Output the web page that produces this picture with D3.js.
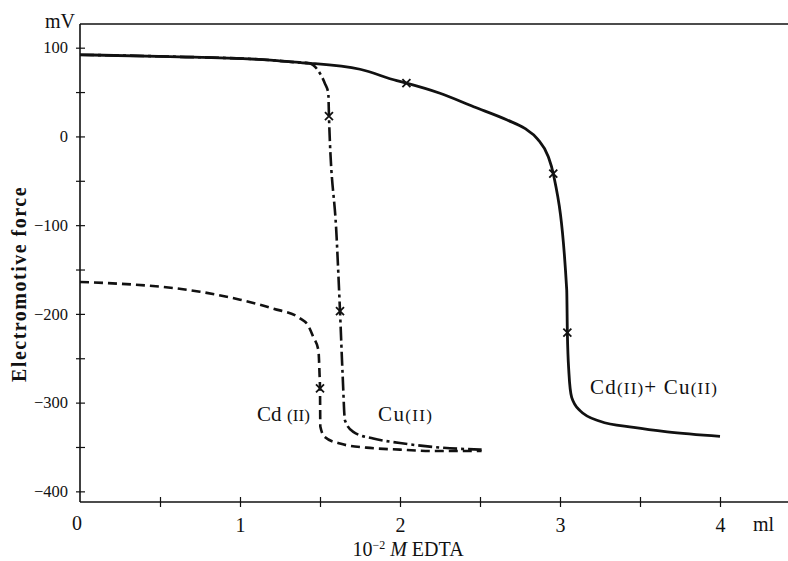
<!DOCTYPE html>
<html>
<head>
<meta charset="utf-8">
<script src="https://cdn.jsdelivr.net/npm/d3@7"></script>
<style>
  html, body { margin: 0; padding: 0; background: #fff; }
  svg { display: block; font-family: "Liberation Serif", "DejaVu Serif", serif; }
</style>
</head>
<body>
<svg id="chart" width="788" height="561"></svg>
<script>
// ---- data (ml of 10^-2 M EDTA, mV) ----
const cdcuX = [0, 0.56, 1.19, 1.39, 1.44, 1.75, 1.98, 2.04, 2.25, 2.46, 2.67, 2.78, 2.86, 2.927, 2.958, 3.042, 3.046, 3.056, 3.073, 3.125, 3.25, 3.46, 3.67, 4.0];
const cdcuY = [92, 90, 86, 83, 82.4, 75.7, 62.8, 60, 48.6, 33.5, 18.5, 9, -3, -23, -42, -173, -221, -267, -294, -309, -321, -328, -333, -338];
const cuX = [0, 0.56, 1.19, 1.39, 1.43, 1.5, 1.53, 1.552, 1.556, 1.604, 1.625, 1.642, 1.656, 1.708, 1.833, 2.0, 2.208, 2.51];
const cuY = [92, 90, 86, 83, 82.5, 71, 60, 48.6, 23, -114, -197, -271, -320, -333, -340.5, -345.5, -350, -353];
const cdX = [0, 0.75, 1.0, 1.208, 1.375, 1.427, 1.458, 1.49, 1.497, 1.5, 1.502, 1.53, 1.625, 1.79, 2.0, 2.21, 2.51];
const cdY = [-164, -175, -184, -194, -205, -213.5, -226, -241, -267, -284, -327, -338.7, -346.2, -350.7, -353, -354.5, -354.5];
const cdcuMarkX = [2.04, 2.958, 3.046];
const cdcuMarkY = [60, -42, -221];
const cuMarkX = [1.556, 1.625];
const cuMarkY = [23, -197];
const cdMarkX = [1.5];
const cdMarkY = [-284];
const xTickValues = [0.5, 1, 1.5, 2, 2.5, 3, 3.5, 4];
const xTickLabels = ["", "1", "", "2", "", "3", "", "4"];
const yTickValues = [100, 50, 0, -50, -100, -150, -200, -250, -300, -350, -400];
const yTickLabels = ["100", "", "0", "", "\u2212100", "", "\u2212200", "", "\u2212300", "", "\u2212400"];

const svg = d3.select("#chart");
const ink = "#111";

const x = d3.scaleLinear().domain([0, 4.425]).range([80, 788]);
const y = d3.scaleLinear().domain([-412, 126.7]).range([502, 24]);

// frame: top line
svg.append("line").attr("x1", x(0)).attr("x2", 788).attr("y1", y(126.7)).attr("y2", y(126.7))
  .attr("stroke", ink).attr("stroke-width", 1.4);

// x axis
const xAxis = d3.axisBottom(x).tickValues(xTickValues)
  .tickFormat((d, i) => xTickLabels[i]).tickSize(5).tickPadding(11);
const gx = svg.append("g").attr("transform", `translate(0,${y(-412)})`).call(xAxis);
gx.select(".domain").attr("d", `M${x(0)},0H788`).attr("stroke", ink).attr("stroke-width", 1.6);
gx.selectAll(".tick line").attr("y1", -5).attr("y2", 5).attr("stroke", ink).attr("stroke-width", 1.2);
gx.selectAll(".tick text").attr("font-size", 20).attr("fill", ink)
  .attr("font-family", "Liberation Serif, serif");

// y axis
const yAxis = d3.axisLeft(y).tickValues(yTickValues)
  .tickFormat((d, i) => yTickLabels[i]).tickSize(5).tickPadding(7);
const gy = svg.append("g").attr("transform", `translate(${x(0)},0)`).call(yAxis);
gy.select(".domain").attr("d", `M0,${y(126.7)}V${y(-412)}`).attr("stroke", ink).attr("stroke-width", 1.6);
gy.selectAll(".tick line").attr("x1", -4).attr("x2", 5).attr("stroke", ink).attr("stroke-width", 1.2);
gy.selectAll(".tick text").attr("font-size", 16.5).attr("fill", ink)
  .attr("font-family", "Liberation Serif, serif");

// origin label
svg.append("text").attr("x", 77).attr("y", 530).attr("text-anchor", "middle")
  .attr("font-size", 20).attr("fill", ink).text("0");

// units
svg.append("text").attr("x", 75).attr("y", 28).attr("text-anchor", "end")
  .attr("font-size", 20).attr("fill", ink).text("mV");
svg.append("text").attr("x", 753).attr("y", 531).attr("text-anchor", "start")
  .attr("font-size", 20).attr("fill", ink).text("ml");

// axis titles
const xt = svg.append("text").attr("x", 408).attr("y", 556).attr("text-anchor", "middle")
  .attr("font-size", 20).attr("fill", ink);
xt.append("tspan").text("10");
xt.append("tspan").attr("font-size", 12).attr("dy", -7).text("\u22122");
xt.append("tspan").attr("dy", 7).attr("font-style", "italic").text(" M");
xt.append("tspan").text(" EDTA");

svg.append("text").attr("transform", "translate(26,284) rotate(-90)")
  .attr("text-anchor", "middle").attr("font-size", 20).attr("font-weight", "bold")
  .attr("letter-spacing", 1.5).attr("fill", ink).text("Electromotive force");

// curves
const line = d3.line().x(d => x(d[0])).y(d => y(d[1])).curve(d3.curveMonotoneX);
const zip = (a, b) => a.map((v, i) => [v, b[i]]);

svg.append("path").datum(zip(cdX, cdY)).attr("d", line)
  .attr("fill", "none").attr("stroke", ink).attr("stroke-width", 2.6)
  .attr("stroke-dasharray", "9,5");
svg.append("path").datum(zip(cuX, cuY)).attr("d", line)
  .attr("fill", "none").attr("stroke", ink).attr("stroke-width", 2.6)
  .attr("stroke-dasharray", "14,4,3,4");
svg.append("path").datum(zip(cdcuX, cdcuY)).attr("d", line)
  .attr("fill", "none").attr("stroke", ink).attr("stroke-width", 2.8);

// markers
function crosses(xs, ys) {
  const pts = zip(xs, ys);
  svg.append("g").selectAll("path").data(pts).join("path")
    .attr("transform", d => `translate(${x(d[0])},${y(d[1])})`)
    .attr("d", "M-4,-4L4,4M-4,4L4,-4")
    .attr("stroke", ink).attr("stroke-width", 1.8).attr("fill", "none");
}
crosses(cdcuMarkX, cdcuMarkY);
crosses(cuMarkX, cuMarkY);
crosses(cdMarkX, cdMarkY);

// curve labels
function label(px, py, parts, len) {
  const t = svg.append("text").attr("x", px).attr("y", py).attr("fill", ink).attr("font-size", 21);
  parts.forEach(p => t.append("tspan").attr("font-size", p[1]).text(p[0]));
  t.attr("textLength", len).attr("lengthAdjust", "spacing");
}
label(257, 421, [["Cd ", 21], ["(II)", 17]], 53);
label(378, 421, [["Cu", 21], ["(II)", 17]], 54);
label(590, 394, [["Cd", 21], ["(II)", 17], ["+ Cu", 21], ["(II)", 17]], 127);
</script>
</body>
</html>
